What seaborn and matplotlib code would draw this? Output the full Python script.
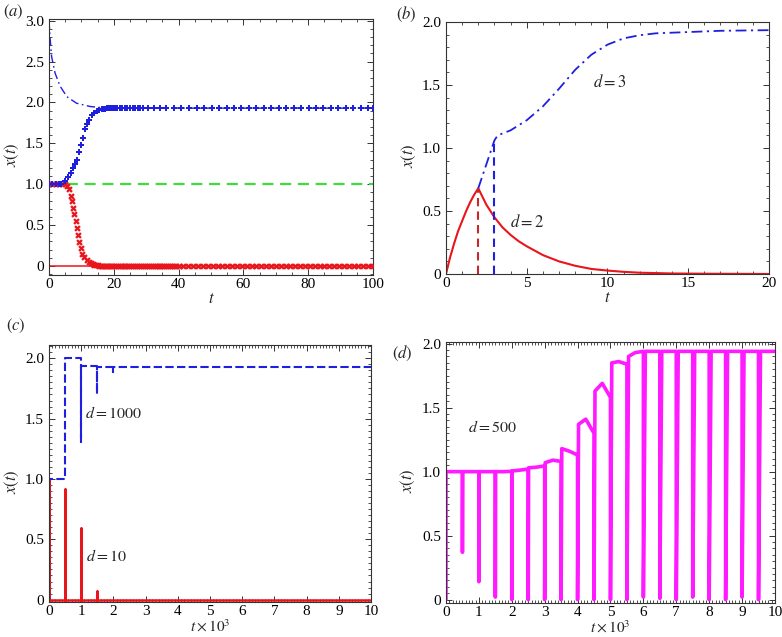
import numpy as np
import pandas as pd
import seaborn as sns
import matplotlib
matplotlib.use("Agg")
import matplotlib.pyplot as plt
from matplotlib.ticker import MultipleLocator, FuncFormatter

# ---------------- panel (a) ----------------
a_blue_t = [0, 1, 2, 3, 3.7, 4.9, 6.0, 6.7, 7.3, 7.9, 8.5, 9.3, 9.8, 10.4, 11.1, 11.7,
            12.4, 13.2, 14.0, 14.7, 15.5, 16.2, 16.8, 17.3, 17.8, 18.4, 19.0, 19.6,
            20.3, 21.0, 21.8, 22.6, 23.4, 24.2, 25.0, 25.8, 26.6, 27.4, 28.2, 29.0,
            30.7, 32.5, 34.2, 36.0, 38.5, 40.6, 43.3, 45.6, 47.9, 50.2, 52.5, 54.8,
            57.1, 59.4, 61.7, 64.0, 66.3, 68.6, 70.9, 73.2, 75.5, 77.8, 80.1, 82.4,
            84.7, 87.0, 89.3, 91.6, 93.9, 96.2, 98.5, 100]
a_blue_x = [1.0, 1.0, 1.0, 1.0, 1.0, 1.04, 1.09, 1.14, 1.20, 1.25, 1.30, 1.39, 1.48,
            1.57, 1.67, 1.73, 1.79, 1.84, 1.87, 1.89, 1.91, 1.915, 1.92, 1.925, 1.93]
a_blue_plateau = 1.93

a_dashdot_t = [0, 0.1, 0.3, 0.8, 1.85, 3.4, 5.5, 8.5, 12.7, 17.8, 100]
a_dashdot_x = [3.0, 2.93, 2.80, 2.56, 2.36, 2.20, 2.07, 1.99, 1.95, 1.93, 1.93]

a_red_t = [0, 1, 2, 3, 4, 5, 5.5, 6.2, 6.7, 7.0, 7.5, 7.8, 8.2, 8.5, 8.95, 9.4, 9.8,
           10.3, 10.8, 11.6, 12.3, 12.9, 13.5, 14.0, 14.5, 15.0, 15.5, 16.0, 16.5,
           17.0, 17.5, 18.0, 18.5, 19.0, 19.5, 20.0, 20.6, 21.2, 21.8, 22.4, 23.0,
           23.6, 24.2, 24.8, 25.4, 26.0, 26.6, 27.2, 27.8, 28.4, 29.0, 29.6, 30.2,
           30.8, 31.4, 32.0, 32.6, 33.2, 33.8, 34.4, 35.0, 35.6, 36.2, 36.8, 37.4,
           38.0, 38.6, 39.2, 40.0, 41.5, 43.0, 44.5, 46.0, 47.5, 49.0, 50.5, 52.0,
           53.5, 55.0, 56.5, 58.0, 59.5, 61.0, 62.5, 64.0, 65.5, 67.0, 68.5, 70.0,
           71.5, 73.0, 74.5, 76.0, 77.5, 79.0, 80.5, 82.0, 83.5, 85.0, 86.5, 88.0,
           89.5, 91.0, 92.5, 94.0, 95.5, 97.0, 98.5, 100]
a_red_x = [1.0, 1.0, 1.0, 1.0, 1.0, 1.0, 0.98, 0.94, 0.86, 0.80, 0.71, 0.63, 0.55,
           0.47, 0.38, 0.29, 0.22, 0.15, 0.11, 0.07, 0.05, 0.035, 0.025, 0.018,
           0.012, 0.008, 0.005, 0.003]
a_red_plateau = 0.0
a_green_level = 1.0
a_red_level = 0.0

# ---------------- panel (b) ----------------
b_red_t = [0, 0.25, 0.5, 0.75, 1.0, 1.25, 1.5, 1.75, 2.0, 2.5, 3.0, 3.5, 4.0, 4.5,
           5.0, 6.0, 7.0, 8.0, 9.0, 10.0, 11.0, 12.0, 14.0, 16.0, 20.0]
b_red_x = [0, 0.13, 0.24, 0.34, 0.42, 0.50, 0.57, 0.63, 0.68, 0.55, 0.45, 0.37,
           0.31, 0.26, 0.22, 0.15, 0.10, 0.065, 0.04, 0.027, 0.017, 0.01, 0.004,
           0.002, 0.0]
b_blue_t = [2.0, 2.5, 3.0, 3.2, 4.0, 5.0, 6.0, 7.0, 8.0, 9.0, 10.0, 11.0, 12.0,
            13.0, 15.0, 17.0, 20.0]
b_blue_x = [0.68, 0.87, 1.06, 1.10, 1.14, 1.22, 1.33, 1.47, 1.62, 1.74, 1.82, 1.87,
            1.895, 1.91, 1.92, 1.93, 1.935]
b_red_delay = 2.0
b_blue_delay = 3.0

# ---------------- panel (c) ----------------
c_blue_t = [0, 0, 0.5, 0.5, 1.0, 1.0, 1.0, 1.5, 1.5, 1.5, 2.0, 2.0, 2.0, 10.0]
c_blue_x = [0, 1.0, 1.0, 2.0, 2.0, 1.31, 1.94, 1.94, 1.70, 1.93, 1.93, 1.89, 1.93, 1.93]
c_red_t = [0, 0, 0, 0.5, 0.5, 0.5, 1.0, 1.0, 1.0, 1.5, 1.5, 1.5, 10.0]
c_red_x = [0, 1.0, 0, 0, 0.92, 0, 0, 0.59, 0, 0, 0.07, 0, 0]

# ---------------- panel (d) ----------------
d_drop_t = [0, 0.5, 1.0, 1.5, 2.0, 2.5, 3.0, 3.5, 4.0, 4.5, 5.0, 5.5, 6.0, 6.5,
            7.0, 7.5, 8.0, 8.5, 9.0, 9.5]
d_drop_min = [0, 0.37, 0.14, 0.02, 0, 0, 0, 0, 0, 0, 0, 0, 0.02, 0.01, 0, 0.02,
              0, 0, 0.02, 0]
d_drop_width = [0, 0.005, 0.005, 0.005, 0.01, 0.01, 0.015, 0.02, 0.03, 0.03, 0.04,
                0.05, 0.06, 0.06, 0.06, 0.06, 0.06, 0.06, 0.06, 0.06]
d_level_start = [1.0, 1.0, 1.0, 1.0, 1.005, 1.03, 1.07, 1.18, 1.37, 1.63, 1.85,
                 1.90, 1.94, 1.94, 1.94, 1.94, 1.94, 1.94, 1.94, 1.94]
d_level_mid = [1.0, 1.0, 1.0, 1.0, 1.012, 1.035, 1.09, 1.16, 1.41, 1.69, 1.86,
               1.93, 1.94, 1.94, 1.94, 1.94, 1.94, 1.94, 1.94, 1.94]
d_level_end = [1.0, 1.0, 1.0, 1.003, 1.02, 1.045, 1.08, 1.13, 1.30, 1.58, 1.84,
               1.94, 1.94, 1.94, 1.94, 1.94, 1.94, 1.94, 1.94, 1.94]

BLUE = "#1f1fe0"
RED = "#e8161c"
GREEN = "#3fdc3f"
MAGENTA = "#ff1aff"

sns.set_theme(style="ticks")
plt.rcParams['font.family'] = ['Liberation Serif', 'DejaVu Serif']
plt.rcParams['mathtext.fontset'] = 'stix'
plt.rcParams.update({
    'xtick.direction': 'in', 'ytick.direction': 'in',
    'xtick.top': True, 'ytick.right': True,
    'xtick.major.size': 4.5, 'ytick.major.size': 4.5,
    'xtick.minor.size': 2.2, 'ytick.minor.size': 2.2,
    'xtick.major.width': 0.7, 'ytick.major.width': 0.7,
    'xtick.minor.width': 0.6, 'ytick.minor.width': 0.6,
    'xtick.labelsize': 11, 'ytick.labelsize': 11,
    'axes.linewidth': 0.8, 'axes.edgecolor': '#333333',
    'xtick.color': '#333333', 'ytick.color': '#333333',
    'xtick.labelcolor': 'black', 'ytick.labelcolor': 'black',
})


def fmt(v, pos):
    if abs(v) < 1e-9:
        return "0"
    return f"{v:.1f}"


def fmt_int(v, pos):
    return f"{v:.0f}"


def style_axes(ax, xmaj, xmin, ymaj, ymin, xlabel, xlab_y, xlab_size):
    ax.xaxis.set_major_locator(MultipleLocator(xmaj))
    ax.xaxis.set_minor_locator(MultipleLocator(xmin))
    ax.yaxis.set_major_locator(MultipleLocator(ymaj))
    ax.yaxis.set_minor_locator(MultipleLocator(ymin))
    ax.yaxis.set_major_formatter(FuncFormatter(fmt))
    ax.xaxis.set_major_formatter(FuncFormatter(fmt_int))
    ax.tick_params(which='both', top=True, right=True)
    ax.tick_params(axis='x', pad=2.0)
    ax.set_xlabel(xlabel, fontsize=xlab_size)
    ax.xaxis.set_label_coords(0.5, xlab_y)
    ax.set_ylabel(r"$x(t)$", fontsize=12)
    ax.yaxis.set_label_coords(-0.088, 0.47)


fig = plt.figure(figsize=(7.82, 6.37), dpi=100)
ax_a = fig.add_axes([0.0627, 0.5683, 0.4143, 0.4019])
ax_b = fig.add_axes([0.5703, 0.5699, 0.4130, 0.3956])
ax_c = fig.add_axes([0.0627, 0.0549, 0.4118, 0.4035])
ax_d = fig.add_axes([0.5703, 0.0534, 0.4207, 0.4097])

# ---- (a)
blue_df = pd.DataFrame({
    't': a_blue_t,
    'x': a_blue_x + [a_blue_plateau] * (len(a_blue_t) - len(a_blue_x)),
})
red_df = pd.DataFrame({
    't': a_red_t,
    'x': a_red_x + [a_red_plateau] * (len(a_red_t) - len(a_red_x)),
})
sns.lineplot(x=[0, 100], y=[a_red_level, a_red_level], ax=ax_a, color=RED, lw=1.1,
             estimator=None, sort=False)
sns.lineplot(x=[0, 100], y=[a_green_level, a_green_level], ax=ax_a, color=GREEN,
             lw=1.6, linestyle=(0, (5, 3)), estimator=None, sort=False)
sns.lineplot(x=a_dashdot_t, y=a_dashdot_x, ax=ax_a, color=BLUE, lw=1.0,
             linestyle=(0, (6, 2.5, 1.2, 2.5)), estimator=None, sort=False)
sns.scatterplot(data=red_df, x='t', y='x', ax=ax_a, marker='X', s=22, color=RED,
                linewidth=0, zorder=3)
sns.scatterplot(data=blue_df, x='t', y='x', ax=ax_a, marker='P', s=24, color=BLUE,
                linewidth=0, zorder=4)
ax_a.set_xlim(0, 100)
ax_a.set_ylim(-0.11, 3.02)
style_axes(ax_a, 20, 5, 0.5, 0.1, r"$t$", -0.062, 12)

# ---- (b)
sns.lineplot(x=b_red_t, y=b_red_x, ax=ax_b, color=RED, lw=1.5, estimator=None,
             sort=False)
sns.lineplot(x=b_blue_t, y=b_blue_x, ax=ax_b, color=BLUE, lw=1.3,
             linestyle=(0, (6, 2.5, 1.2, 2.5)), estimator=None, sort=False)
sns.lineplot(x=[b_red_delay, b_red_delay], y=[0, b_red_x[b_red_t.index(b_red_delay)]],
             ax=ax_b, color="#c82828", lw=1.5, linestyle=(0, (4, 2.5)),
             estimator=None, sort=False)
sns.lineplot(x=[b_blue_delay, b_blue_delay], y=[0, b_blue_x[b_blue_t.index(b_blue_delay)]],
             ax=ax_b, color=BLUE, lw=1.5, linestyle=(0, (4, 2.5)),
             estimator=None, sort=False)
ax_b.text(9.1, 1.52, r"$d = 3$", fontsize=12, ha='left', va='center')
ax_b.text(3.95, 0.41, r"$d = 2$", fontsize=12, ha='left', va='center')
ax_b.set_xlim(0, 20)
ax_b.set_ylim(0, 2.0)
style_axes(ax_b, 5, 1, 0.5, 0.1, r"$t$", -0.062, 12)

# ---- (c)
sns.lineplot(x=c_red_t, y=c_red_x, ax=ax_c, color=RED, lw=1.8, estimator=None,
             sort=False)
sns.lineplot(x=c_blue_t, y=c_blue_x, ax=ax_c, color=BLUE, lw=1.5,
             linestyle=(0, (4, 1.6)), estimator=None, sort=False)
ax_c.text(1.12, 1.54, r"$d = 1000$", fontsize=11.5, ha='left', va='center')
ax_c.text(1.15, 0.35, r"$d = 10$", fontsize=11.5, ha='left', va='center')
ax_c.set_xlim(0, 10)
ax_c.set_ylim(-0.02, 2.11)
style_axes(ax_c, 1, 0.1, 0.5, 0.05, r"$t \times 10^3$", -0.062, 11)

# ---- (d)
d_t, d_x = [], []
for i, t0 in enumerate(d_drop_t):
    t1 = d_drop_t[i + 1] if i + 1 < len(d_drop_t) else 10.0
    prev = d_level_end[i - 1] if i > 0 else d_drop_min[0]
    d_t += [t0, t0, t0 + d_drop_width[i], (t0 + t1) / 2, t1]
    d_x += [prev, d_drop_min[i], d_level_start[i], d_level_mid[i], d_level_end[i]]
d_df = pd.DataFrame({'t': d_t, 'x': d_x})
sns.lineplot(data=d_df, x='t', y='x', ax=ax_d, color=MAGENTA, lw=2.6,
             estimator=None, sort=False)
ax_d.text(0.67, 1.34, r"$d = 500$", fontsize=11.5, ha='left', va='center')
ax_d.set_xlim(0, 10)
ax_d.set_ylim(-0.026, 2.013)
style_axes(ax_d, 1, 0.1, 0.5, 0.05, r"$t \times 10^3$", -0.062, 11)

# panel letters
fig.text(0.004, 0.995, r"$(a)$", fontsize=12, ha='left', va='top')
fig.text(0.507, 0.993, r"$(b)$", fontsize=12, ha='left', va='top')
fig.text(0.008, 0.503, r"$(c)$", fontsize=12, ha='left', va='top')
fig.text(0.501, 0.46, r"$(d)$", fontsize=12, ha='left', va='top')

fig.savefig("out.png", dpi=100)
